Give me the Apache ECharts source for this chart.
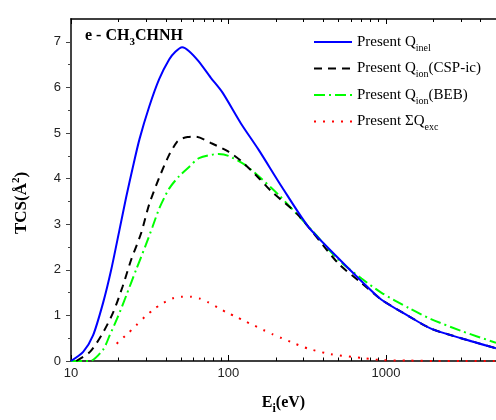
<!DOCTYPE html>
<html><head><meta charset="utf-8">
<script src="https://cdn.jsdelivr.net/npm/echarts@6/dist/echarts.min.js"></script>
<style>html,body{margin:0;padding:0;background:#fff}#c{width:496px;height:420px}</style>
</head><body><div id="c"></div>
<script>
// Q_inel (solid blue)
const inelE = [10, 11.95, 13.8, 16, 18, 20.3, 22.4, 24.7, 27.2, 31.4, 36.3, 42, 46, 50.8, 56, 64.7, 77.3, 91.5, 120, 155.6, 220, 322, 474, 700, 933, 1400, 1932, 3000, 5000];
const inelV = [0, 0.2, 0.56, 1.28, 2.0, 2.87, 3.59, 4.25, 4.86, 5.58, 6.18, 6.61, 6.78, 6.88, 6.8, 6.57, 6.21, 5.89, 5.21, 4.63, 3.8, 2.94, 2.33, 1.75, 1.35, 0.98, 0.71, 0.5, 0.28];
// Q_ion (CSP-ic) (dashed black)
const cspE = [10.8, 13.2, 15.6, 18.5, 21.3, 24.1, 27.8, 31.4, 36.3, 42, 47, 50.8, 55, 61.9, 78.6, 100, 121, 155, 186, 279, 498, 700, 933, 1400, 1932, 3000, 5000];
const cspV = [0, 0.2, 0.56, 1.06, 1.64, 2.22, 2.79, 3.44, 4.02, 4.52, 4.8, 4.88, 4.91, 4.92, 4.77, 4.59, 4.38, 4.02, 3.73, 3.19, 2.14, 1.71, 1.35, 0.98, 0.71, 0.5, 0.28];
// Q_ion (BEB) (dash-dot green)
const bebE = [10, 13.2, 16, 17.6, 19.8, 22.4, 25.9, 29.9, 33, 36.4, 42, 48.5, 56, 65, 86.5, 100, 127.5, 155.6, 206, 338, 498, 700, 933, 1400, 1932, 3000, 5000];
const bebV = [0, 0, 0.25, 0.56, 0.96, 1.43, 2.0, 2.55, 2.95, 3.35, 3.78, 4.05, 4.25, 4.45, 4.54, 4.5, 4.3, 4.05, 3.66, 2.87, 2.22, 1.81, 1.5, 1.16, 0.92, 0.66, 0.4];
// Sum Q_exc (dotted red)
const excE = [19.5, 22.9, 25.9, 29.5, 33.7, 38.5, 44, 50, 57.4, 65.6, 75, 85.6, 98, 112, 127.5, 145.5, 166.6, 190, 218, 248, 322, 446, 725, 933, 1400, 2000, 3000, 5000];
const excV = [0.38, 0.6, 0.78, 0.97, 1.14, 1.27, 1.37, 1.41, 1.41, 1.37, 1.28, 1.17, 1.06, 0.97, 0.87, 0.78, 0.68, 0.59, 0.5, 0.42, 0.27, 0.15, 0.06, 0.02, 0.01, 0, 0, 0];

const xMajor = [10, 100, 1000];
const xMinor = [20, 30, 40, 50, 60, 70, 80, 90, 200, 300, 400, 500, 600, 700, 800, 900, 2000, 3000, 4000];
const yMajor = [0, 1, 2, 3, 4, 5, 6, 7];
const yMinor = [0.5, 1.5, 2.5, 3.5, 4.5, 5.5, 6.5];

const legendText = {
  inel: 'Present Q{s|inel}',
  csp: 'Present Q{s|ion}(CSP-ic)',
  beb: 'Present Q{s|ion}(BEB)',
  exc: 'Present ΣQ{s|exc}'
};

const zip = (a, b) => a.map((v, i) => [v, b[i]]);
const lg = v => Math.log10(v);
const X0 = 10, X1 = 5000;
const serif = 'Liberation Serif', sans = 'Liberation Sans';

const tickAxis = (pos, vals, len, showLine) => ({
  type: 'value', position: pos, min: lg(X0), max: lg(X1),
  axisLine: { show: showLine, onZero: false, lineStyle: { color: '#000', width: 1.5 } },
  axisTick: { show: true, inside: true, length: len, customValues: vals.map(lg), lineStyle: { color: '#000', width: 1 } },
  axisLabel: { show: false }, splitLine: { show: false }
});

const chart = echarts.init(document.getElementById('c'), null, { renderer: 'canvas' });
chart.setOption({
  backgroundColor: '#fff',
  animation: false,
  grid: { left: 71, right: -4, top: 19, bottom: 54, containLabel: false },
  title: {
    text: 'e - CH{s|3}CHNH', left: 85, top: 24, padding: 0,
    textStyle: { fontFamily: serif, fontWeight: 'bold', fontSize: 16, color: '#000', lineHeight: 24,
      rich: { s: { fontFamily: serif, fontWeight: 'bold', fontSize: 11, verticalAlign: 'bottom', lineHeight: 12 } } }
  },
  legend: {
    orient: 'vertical', left: 313, top: 31, padding: 0, itemWidth: 38, itemHeight: 14, itemGap: 4.5,
    data: ['inel', 'csp', 'beb', 'exc'],
    formatter: n => legendText[n],
    itemStyle: { opacity: 0 },
    textStyle: { fontFamily: serif, fontSize: 15, color: '#000', lineHeight: 22,
      rich: { s: { fontFamily: serif, fontSize: 10, color: '#000', verticalAlign: 'bottom', lineHeight: 11 } } }
  },
  graphic: [{
    type: 'text', x: 22, y: 203, rotation: Math.PI / 2,
    style: { text: 'TCS(Å{p|2})', fontFamily: serif, fontWeight: 'bold', fontSize: 17, fill: '#000',
      align: 'center', verticalAlign: 'middle', lineHeight: 22,
      rich: { p: { fontFamily: serif, fontWeight: 'bold', fontSize: 11, verticalAlign: 'top', lineHeight: 12 } } }
  }],
  xAxis: [
    { type: 'log', logBase: 10, min: X0, max: X1, position: 'bottom',
      axisLine: { show: true, onZero: false, lineStyle: { color: '#000', width: 1.5 } },
      axisTick: { show: true, inside: true, length: 6, customValues: xMajor, lineStyle: { color: '#000', width: 1 } },
      axisLabel: { show: true, customValues: xMajor, formatter: v => String(Math.round(v)), margin: 6, fontFamily: sans, fontSize: 13, color: '#222' },
      splitLine: { show: false }, minorTick: { show: false },
      name: 'E{s|i}(eV)', nameLocation: 'middle', nameGap: 30,
      nameTextStyle: { fontFamily: serif, fontWeight: 'bold', fontSize: 16, color: '#000', lineHeight: 24,
        rich: { s: { fontFamily: serif, fontWeight: 'bold', fontSize: 12, verticalAlign: 'bottom', lineHeight: 13 } } }
    },
    tickAxis('bottom', xMinor, 3.5, false),
    tickAxis('top', xMajor, 5, true),
    tickAxis('top', xMinor, 3, false)
  ],
  yAxis: [
    { type: 'value', min: 0, max: 7.5, position: 'left',
      axisLine: { show: true, onZero: false, lineStyle: { color: '#444', width: 2 } },
      axisTick: { show: true, inside: false, length: 5, customValues: yMajor, lineStyle: { color: '#444', width: 1 } },
      axisLabel: { show: true, customValues: yMajor, margin: 10, fontFamily: sans, fontSize: 13, color: '#222' },
      splitLine: { show: false }
    },
    { type: 'value', min: 0, max: 7.5, position: 'left',
      axisLine: { show: false },
      axisTick: { show: true, inside: false, length: 3, customValues: yMinor, lineStyle: { color: '#444', width: 1 } },
      axisLabel: { show: false }, splitLine: { show: false }
    }
  ],
  series: [
    { name: 'inel', type: 'line', data: zip(inelE, inelV), symbol: 'none', smooth: 0.25, z: 5,
      lineStyle: { color: '#0000ff', width: 2, type: 'solid' }, itemStyle: { color: '#0000ff' } },
    { name: 'csp', type: 'line', data: zip(cspE, cspV), symbol: 'none', smooth: 0.25, z: 4,
      lineStyle: { color: '#000000', width: 2, type: [8, 6] }, itemStyle: { color: '#000000' } },
    { name: 'beb', type: 'line', data: zip(bebE, bebV), symbol: 'none', smooth: 0.25, z: 3,
      lineStyle: { color: '#00ff00', width: 2, type: [11, 4, 2, 4] }, itemStyle: { color: '#00ff00' } },
    { name: 'exc', type: 'line', data: zip(excE, excV), symbol: 'none', smooth: 0.25, z: 2,
      lineStyle: { color: '#ff0000', width: 2, type: [2, 7] }, itemStyle: { color: '#ff0000' } }
  ]
});
</script>
</body></html>
